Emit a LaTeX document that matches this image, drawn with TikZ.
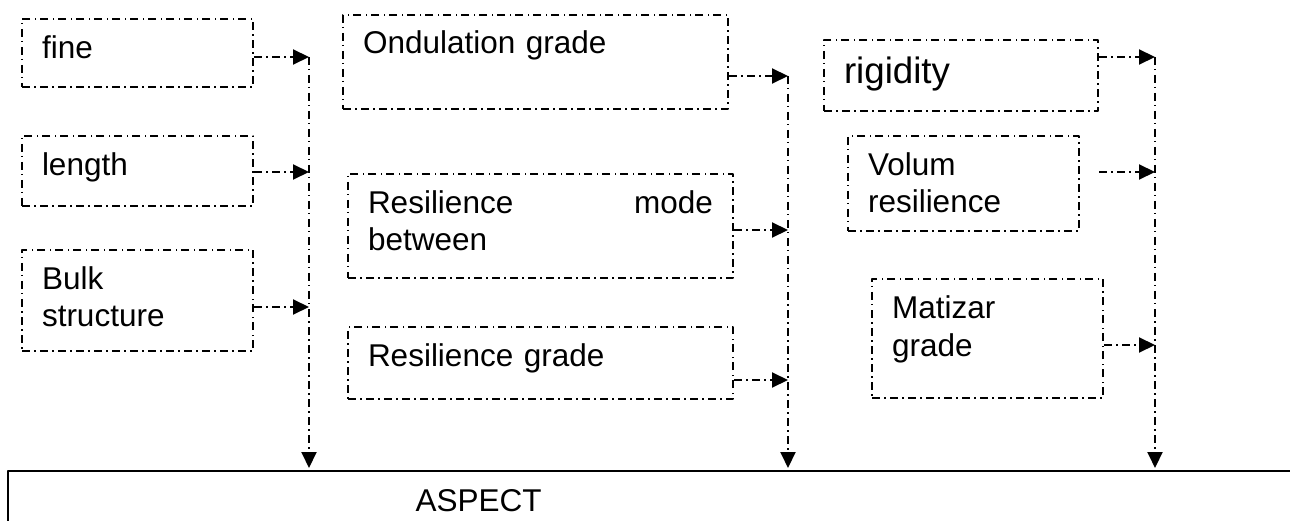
\documentclass[tikz,border=0pt]{standalone}
\usepackage{fontspec}
\setmainfont{Liberation Sans}
\usetikzlibrary{arrows.meta,positioning}

\begin{document}
\begin{tikzpicture}[x=1pt,y=-1pt,line join=round,
	font=\fontsize{31.5}{37}\selectfont,
	dashdot/.style={line width=2pt,dash pattern=on 8pt off 4pt on 1.5pt off 4.5pt},
	factor/.style={draw,dashdot,anchor=north west,inner xsep=20pt,inner ysep=0pt,text height=40pt,align=left},
	link/.style={dashdot,-{Triangle[length=16pt,width=15pt]}}]
	\useasboundingbox (0,0) rectangle (1290,521);
	\clip (0,0) rectangle (1290,521);
	% left group
	\node[factor,text width=191pt,text depth=28pt] (fine) at (21,18) {fine};
	\node[factor,text width=191pt,text depth=30pt] (length) at (21,135) {length};
	\node[factor,text width=191pt,text depth=61pt] (bulk) at (21,249) {Bulk\\structure};
	% middle group
	\node[factor,text width=345pt,text depth=55pt,text height=39pt] (ondul) at (342,14) {Ondulation grade};
	\node[factor,text width=345pt,text depth=64pt] (resmode) at (347,173) {Resilience\hfill mode\\between};
	\node[factor,text width=345pt,text depth=33pt,text height=39pt] (resgrade) at (347,326) {Resilience grade};
	% right group
	\node[factor,text width=234pt,text height=44pt,text depth=27pt,font=\fontsize{36.7}{43}\selectfont] (rigid) at (823,39) {rigidity};
	\node[factor,text width=191pt,text depth=55pt] (volum) at (847,135) {Volum\\resilience};
	\node[factor,text width=191pt,text depth=79pt] (matiz) at (871,278) {Matizar\\grade};
	% result
	\node[draw,line width=2pt,anchor=north west,minimum width=1400pt,minimum height=120pt] (aspect) at (7,470) {};
	\node[anchor=base west] (aspectlbl) at (412,511) {ASPECT};
	% collecting lines
	\coordinate (l1) at (309,57);
	\coordinate (l2) at (309,172);
	\coordinate (l3) at (309,307);
	\coordinate (m1) at (788,76);
	\coordinate (m2) at (788,230);
	\coordinate (m3) at (788,380);
	\coordinate (r1) at (1155,57);
	\coordinate (r2) at (1155,172);
	\coordinate (r3) at (1155,345);
	\draw[link] (fine.east |- l1) -- (l1);
	\draw[link] (length.east |- l2) -- (l2);
	\draw[link] (bulk.east |- l3) -- (l3);
	\draw[link] (ondul.east |- m1) -- (m1);
	\draw[link] (resmode.east |- m2) -- (m2);
	\draw[link] (resgrade.east |- m3) -- (m3);
	\draw[link] (rigid.east |- r1) -- (r1);
	\draw[link,shorten <=19pt] (volum.east |- r2) -- (r2);
	\draw[link] (matiz.east |- r3) -- (r3);
	\foreach \c in {l1,m1,r1}
		\draw[link,shorten >=2pt] (\c) -- (\c |- aspect.north);
\end{tikzpicture}
\end{document}
